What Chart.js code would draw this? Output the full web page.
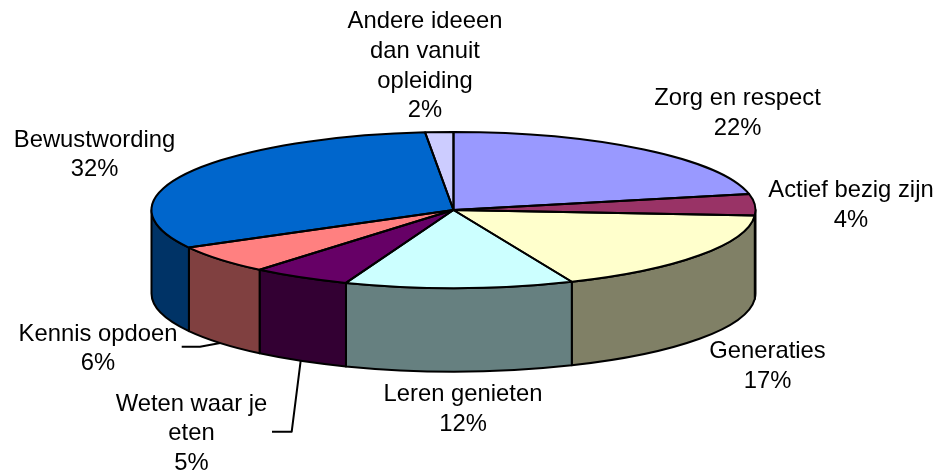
<!DOCTYPE html>
<html>
<head>
<meta charset="utf-8">
<style>html,body{margin:0;padding:0;background:#fff}canvas{display:block}</style>
<script src="https://cdn.jsdelivr.net/npm/chart.js@4"></script>
</head>
<body>
<canvas id="c" width="941" height="470"></canvas>
<script>
const categories = [
  ["Zorg en respect"],
  ["Actief bezig zijn"],
  ["Generaties"],
  ["Leren genieten"],
  ["Weten waar je", "eten"],
  ["Kennis opdoen"],
  ["Bewustwording"],
  ["Andere ideeen", "dan vanuit", "opleiding"]
];
const values = [21.7, 4.4, 17.49, 12.2, 5.3, 5.9, 31.5, 1.5];
const topColors = ["#9999FF", "#993366", "#FFFFCC", "#CCFFFF", "#660066", "#FF8080", "#0066CC", "#CCCCFF"];
const wallColors = ["#4C4C80", "#4C1A33", "#808066", "#668080", "#330033", "#804040", "#003366", "#666680"];

// layout of the tilted pie and its labels
const pie = { cx: 453.5, cy: 210, rx: 302, ry: 78, depth: 83.5 };
const labelCenterX = [737.5, 851, 767.5, 463, 191.5, 98, 94.5, 425];
const labelFirstBaseline = [105, 197, 358, 401, 410.5, 340.5, 146.5, 28];
const leaderElbows = { 4: [[272, 431.7], [291.7, 431.7]], 5: [[181.7, 346.7], [200, 346.7]] };
const FONT = '23.8px "Liberation Sans", Arial, sans-serif';
const LINE = 29.8;

const pie3d = {
  id: 'pie3d',
  beforeDatasetsDraw(chart) {
    const ctx = chart.ctx;
    const arcs = chart.getDatasetMeta(0).data;
    // side walls, front half only
    arcs.forEach((arc, i) => {
      let st = norm(arc.startAngle), en = norm(arc.endAngle);
      if (en < st) en += Math.PI * 2;
      [[st, en], [st - Math.PI * 2, en - Math.PI * 2]].forEach(([p, q]) => {
        const from = Math.max(p, 0), to = Math.min(q, Math.PI);
        if (to <= from) return;
        ctx.beginPath();
        ctx.ellipse(pie.cx, pie.cy, pie.rx, pie.ry, 0, from, to);
        ctx.ellipse(pie.cx, pie.cy + pie.depth, pie.rx, pie.ry, 0, to, from, true);
        ctx.closePath();
        ctx.fillStyle = wallColors[i];
        ctx.fill();
        ctx.lineWidth = 2;
        ctx.strokeStyle = '#000';
        ctx.lineJoin = 'round';
        ctx.stroke();
      });
    });
    ctx.save();
    applyTilt(ctx, arcs[0]);
  },
  afterDatasetsDraw(chart) {
    const ctx = chart.ctx;
    ctx.restore();
    const arcs = chart.getDatasetMeta(0).data;
    // outlines: path built in tilted space, stroked in page space for an even line
    arcs.forEach(arc => {
      ctx.save();
      applyTilt(ctx, arc);
      ctx.beginPath();
      ctx.moveTo(arc.x, arc.y);
      ctx.arc(arc.x, arc.y, arc.outerRadius, arc.startAngle, arc.endAngle);
      ctx.closePath();
      ctx.restore();
      ctx.lineWidth = 2;
      ctx.strokeStyle = '#000';
      ctx.lineJoin = 'round';
      ctx.stroke();
    });
    // leader lines end on the rim at the slice's middle angle
    Object.keys(leaderElbows).forEach(k => {
      const arc = arcs[k];
      const m = (arc.startAngle + arc.endAngle) / 2;
      const pts = leaderElbows[k].concat([[
        pie.cx + pie.rx * Math.cos(m),
        pie.cy + pie.depth + pie.ry * Math.sin(m)
      ]]);
      ctx.beginPath();
      pts.forEach((p, j) => j ? ctx.lineTo(p[0], p[1]) : ctx.moveTo(p[0], p[1]));
      ctx.lineWidth = 2;
      ctx.strokeStyle = '#000';
      ctx.stroke();
    });
    // labels
    ctx.font = FONT;
    ctx.fillStyle = '#000';
    ctx.textAlign = 'center';
    ctx.textBaseline = 'alphabetic';
    categories.forEach((lines, i) => {
      const pct = Math.round(values[i]) + '%';
      lines.concat([pct]).forEach((t, j) => {
        ctx.fillText(t, labelCenterX[i], labelFirstBaseline[i] + j * LINE);
      });
    });
  }
};
function norm(a) {
  const t = Math.PI * 2;
  return ((a % t) + t) % t;
}
function applyTilt(ctx, arc) {
  ctx.translate(pie.cx, pie.cy);
  ctx.scale(pie.rx / arc.outerRadius, pie.ry / arc.outerRadius);
  ctx.translate(-arc.x, -arc.y);
}

new Chart(document.getElementById('c'), {
  type: 'pie',
  data: {
    labels: categories.map(l => l.join(' ')),
    datasets: [{ data: values, backgroundColor: topColors, borderWidth: 0, clip: false }]
  },
  options: {
    responsive: false,
    animation: false,
    layout: { padding: 0 },
    plugins: { legend: { display: false }, tooltip: { enabled: false } }
  },
  plugins: [pie3d]
});
</script>
</body>
</html>
